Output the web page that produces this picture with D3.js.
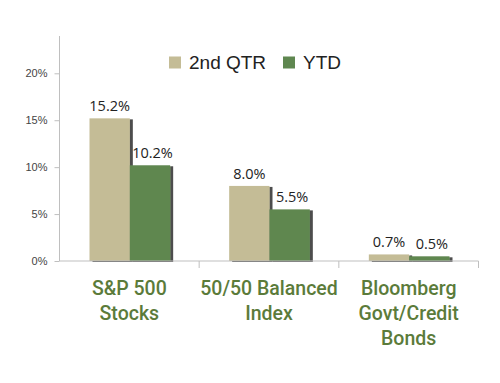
<!DOCTYPE html>
<html><head><meta charset="utf-8">
<script src="https://cdn.jsdelivr.net/npm/d3@7"></script>
<style>html,body{margin:0;padding:0;background:#fff;}svg{display:block;}</style>
</head><body>
<script>
const categories = [["S&P 500","Stocks"],["50/50 Balanced","Index"],["Bloomberg","Govt/Credit","Bonds"]];
const seriesNames = ["2nd QTR","YTD"];
const qtrValues = [15.2, 8.0, 0.7];
const ytdValues = [10.2, 5.5, 0.5];
const yTicks = [0,5,10,15,20];
const colors = ["#c4bc96","#5f8750"];

const W=500,H=383;
const svg=d3.select("body").append("svg").attr("width",W).attr("height",H);
const defs=svg.append("defs");
const f=defs.append("filter").attr("id","sh").attr("x","-20%").attr("y","-20%").attr("width","150%").attr("height","150%");
f.append("feOffset").attr("in","SourceAlpha").attr("dx",2.5).attr("dy",1).attr("result","o");
f.append("feGaussianBlur").attr("in","o").attr("stdDeviation",0.6).attr("result","b");
f.append("feComponentTransfer").attr("in","b").attr("result","c").append("feFuncA").attr("type","linear").attr("slope",0.7);
const m=f.append("feMerge");m.append("feMergeNode").attr("in","c");m.append("feMergeNode").attr("in","SourceGraphic");

const x0=59.5,x1=478.5,yBase=261,yTop=36;
const y=d3.scaleLinear().domain([0,20]).range([yBase,73.3]);
const x=d3.scaleBand().domain(d3.range(categories.length)).range([x0,x1]).paddingInner(0).paddingOuter(0);
const xs=d3.scaleBand().domain(d3.range(seriesNames.length)).range([30,x.bandwidth()-29]);

// y axis
const yAxis=d3.axisLeft(y).tickValues(yTicks).tickFormat(d=>d+"%").tickSize(5).tickPadding(7);
const gy=svg.append("g").attr("transform",`translate(${x0},0)`).call(yAxis);
gy.select(".domain").remove();
gy.append("line").attr("x1",0).attr("x2",0).attr("y1",yTop).attr("y2",yBase).attr("stroke","#bfbfbf");
gy.selectAll(".tick line").attr("stroke","#bfbfbf");
gy.selectAll(".tick text").attr("fill","#444").style("font-family","Liberation Sans, Arial, sans-serif").style("font-size","11px");

// bars
const data=[qtrValues,ytdValues];
data.forEach((vals,si)=>{
  svg.append("g").selectAll("rect").data(vals).join("rect")
    .attr("x",(d,i)=>x(i)+xs(si)).attr("width",xs.bandwidth())
    .attr("y",d=>y(d)).attr("height",d=>yBase-y(d))
    .attr("fill",colors[si]).attr("filter","url(#sh)");
  svg.append("g").selectAll("text").data(vals).join("text")
    .attr("x",(d,i)=>x(i)+xs(si)+xs.bandwidth()/2+(si===1?2.5:0)).attr("y",d=>y(d)-7)
    .attr("text-anchor","middle").attr("fill","#222")
    .style("font-family","Open Sans, sans-serif").style("font-size","14.5px")
    .text(d=>d.toFixed(1)+"%");
});

// x axis
const gx=svg.append("g").attr("transform",`translate(0,${yBase})`);
gx.append("line").attr("x1",x0).attr("x2",x1).attr("stroke","#bfbfbf");
gx.selectAll("line.sep").data(d3.range(1,categories.length+1)).join("line").attr("class","sep")
  .attr("x1",i=>x0+i*x.bandwidth()).attr("x2",i=>x0+i*x.bandwidth()).attr("y1",0).attr("y2",7).attr("stroke","#bfbfbf");

// category labels
const cl=svg.append("g").selectAll("text").data(categories).join("text")
  .attr("x",(d,i)=>x(i)+x.bandwidth()/2).attr("y",295).attr("text-anchor","middle")
  .attr("fill","#5b7b3a").style("font-family","Roboto, sans-serif").style("font-weight","500").style("font-size","19.5px");
cl.each(function(d){
  d3.select(this).selectAll("tspan").data(d).join("tspan")
    .attr("x",d3.select(this).attr("x")).attr("dy",(t,j)=>j===0?0:25).text(t=>t);
});

// legend
const leg=[{name:seriesNames[0],x:169,c:colors[0]},{name:seriesNames[1],x:283,c:colors[1]}];
const lg=svg.append("g").selectAll("g").data(leg).join("g");
lg.append("rect").attr("x",d=>d.x).attr("y",56.5).attr("width",12).attr("height",12).attr("fill",d=>d.c);
lg.append("text").attr("x",d=>d.x+20).attr("y",68.5).attr("fill","#222")
  .style("font-family","Liberation Sans, Arial, sans-serif").style("font-size","19px").text(d=>d.name);
</script>
</body></html>
